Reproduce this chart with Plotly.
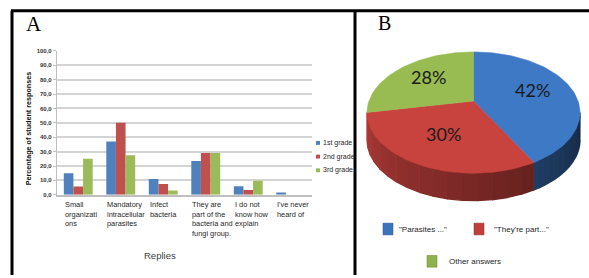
import math
import plotly.graph_objects as go

# ---------------- data ----------------
categories = ["Small organizations", "Mandatory intracellular parasites", "Infect bacteria",
              "They are part of the bacteria and fungi group.", "I do not know how explain",
              "I've never heard of"]
category_labels = ["Small<br>organizati<br>ons", "Mandatory<br>intracellular<br>parasites",
                   "Infect<br>bacteria", "They are<br>part of the<br>bacteria and<br>fungi group.",
                   "I do not<br>know how<br>explain", "I've never<br>heard of"]
series_names = ["1st grade", "2nd grade", "3rd grade"]
grade1 = [15.0, 37.0, 11.0, 23.5, 6.0, 1.5]
grade2 = [5.8, 50.0, 7.5, 29.0, 3.4, 0.0]
grade3 = [25.0, 27.5, 3.0, 29.0, 9.8, 0.0]
y_ticks = [0, 10, 20, 30, 40, 50, 60, 70, 80, 90, 100]

pie_labels = ['"Parasites ..."', '"They\'re part..."', "Other answers"]
pie_values = [42, 30, 28]

# ---------------- styling ----------------
W, H = 589, 278
bar_colors = ["#4F81BD", "#C0504D", "#9BBB59"]
pie_top = [(62, 121, 198), (200, 66, 62), (152, 187, 82)]
NARROW = "Liberation Sans Narrow, Arial Narrow, Liberation Sans, Arial"
SERIF = "Liberation Serif, Times New Roman, DejaVu Serif"


def px(x):
    return x / W


def py(y):
    return 1 - y / H


fig = go.Figure()

# ---------------- panel A: bars ----------------
for name, vals, col in zip(series_names, [grade1, grade2, grade3], bar_colors):
    fig.add_trace(go.Bar(x=categories, y=vals, name=name, marker=dict(color=col, line=dict(width=0)),
                         xaxis="x", yaxis="y", showlegend=False))

group_half = 42.5 * (1 - 0.32) / 2
annotations = []
for cat, lab in zip(categories, category_labels):
    annotations.append(dict(x=cat, y=0, xref="x", yref="y", text=lab, showarrow=False,
                            xanchor="left", yanchor="top", align="left", xshift=-group_half - 1,
                            yshift=-3, font=dict(family=NARROW, size=7.4, color="#262626")))

# axis titles
annotations.append(dict(x=px(28), y=py(129), xref="paper", yref="paper",
                        xanchor="center", yanchor="middle",
                        text="<b>Percentage of student responses</b>", textangle=-90,
                        showarrow=False, font=dict(family=NARROW, size=7.2, color="#111111")))
annotations.append(dict(x=px(160), y=py(258), xref="paper", yref="paper", text="Replies",
                        xanchor="center", yanchor="middle",
                        showarrow=False, font=dict(family=NARROW, size=9.5, color="#404040")))

# legend for bars (drawn)
shapes = []
for i, (name, col) in enumerate(zip(series_names, bar_colors)):
    yc = 143 + 14 * i
    shapes.append(dict(type="rect", xref="paper", yref="paper", x0=px(316), x1=px(320),
                       y0=py(yc + 2), y1=py(yc - 2), fillcolor=col, line=dict(width=0)))
    annotations.append(dict(x=px(320.5), y=py(yc), xref="paper", yref="paper", text=name,
                            showarrow=False, xanchor="left", yanchor="middle",
                            font=dict(family=NARROW, size=7, color="#262626")))

# panel letters
annotations.append(dict(x=px(24), y=py(21), xref="paper", yref="paper", text="A", showarrow=False,
                        xanchor="left", yanchor="middle", font=dict(family=SERIF, size=21, color="#000")))
annotations.append(dict(x=px(376), y=py(20), xref="paper", yref="paper", text="B", showarrow=False,
                        xanchor="left", yanchor="middle", font=dict(family=SERIF, size=20, color="#000")))

# frame lines
for x0, y0, x1, y1 in [(11, 8, 589, 8), (12, 8, 12, 278), (355, 8, 355, 278)]:
    shapes.append(dict(type="line", xref="paper", yref="paper", x0=px(x0), y0=py(y0), x1=px(x1), y1=py(y1),
                       line=dict(color="#000000", width=3)))

# ---------------- panel B: 3D pie drawn in pixel axes ----------------
cx, cy, ra, rb, kp, depth = 473.5, 112.0, 106.5, 62.0, -0.19, 28.0
sp = math.sqrt(1 - kp * kp)


def proj(theta_deg, r=1.0):
    t = math.radians(theta_deg)
    u, v = r * math.sin(t), -r * math.cos(t)
    den = 1 + kp * v
    return cx + ra * u * sp / den, cy + rb * (v + kp) / den


total = sum(pie_values)
bounds = [0.0]
for v in pie_values:
    bounds.append(bounds[-1] + 360.0 * v / total)

front_a = math.degrees(math.acos(kp))
front_b = 360 - front_a


def rgb(c, f):
    return "rgb(%d,%d,%d)" % tuple(max(0, min(255, int(round(ch * f)))) for ch in c)


# sides
for i in range(len(pie_values)):
    a0, a1 = max(bounds[i], front_a), min(bounds[i + 1], front_b)
    if a1 <= a0:
        continue
    n = 16
    for j in range(n):
        ta = a0 + (a1 - a0) * j / n
        tb = a0 + (a1 - a0) * (j + 1) / n
        steps = 4
        xs, ys = [], []
        for m in range(steps + 1):
            x, y = proj(ta + (tb - ta) * m / steps)
            xs.append(x); ys.append(y)
        for m in range(steps, -1, -1):
            x, y = proj(ta + (tb - ta) * m / steps)
            xs.append(x); ys.append(y + depth)
        tm = (ta + tb) / 2
        f = 0.34 + (tm - front_a) / (front_b - front_a) * 0.52
        col = rgb(pie_top[i], f)
        fig.add_trace(go.Scatter(x=xs, y=ys, mode="lines", fill="toself", fillcolor=col,
                                 line=dict(color=col, width=1.3), xaxis="x2", yaxis="y2",
                                 hoverinfo="skip", showlegend=False))

# tops
for i in range(len(pie_values)):
    ax, ay = proj(0, 0.0)
    xs, ys = [ax], [ay]
    n = max(8, int((bounds[i + 1] - bounds[i]) / 2))
    for m in range(n + 1):
        x, y = proj(bounds[i] + (bounds[i + 1] - bounds[i]) * m / n)
        xs.append(x); ys.append(y)
    xs.append(ax); ys.append(ay)
    col = rgb(pie_top[i], 1.0)
    fig.add_trace(go.Scatter(x=xs, y=ys, mode="lines", fill="toself", fillcolor=col,
                             line=dict(color=col, width=0.5), xaxis="x2", yaxis="y2",
                             hoverinfo="skip", showlegend=False, name=pie_labels[i]))
    mid = (bounds[i] + bounds[i + 1]) / 2
    lx, ly = proj(mid, 0.6)
    annotations.append(dict(x=lx, y=ly - 3, xref="x2", yref="y2", xanchor="center", yanchor="middle",
                            text="%d%%" % round(100.0 * pie_values[i] / total), showarrow=False,
                            font=dict(family="Lato, Noto Sans, sans-serif", size=18, color="#1a1a1a")))

# pie legend (drawn)
pie_leg = [(383, 231, 397), (474, 231, 492), (427, 264, 447)]
for (sx, sy, tx), lab, c in zip(pie_leg, pie_labels, pie_top):
    shapes.append(dict(type="rect", xref="paper", yref="paper", x0=px(sx), x1=px(sx + 10),
                       y0=py(sy + 6), y1=py(sy - 6), fillcolor=rgb(c, 0.95),
                       line=dict(color=rgb(c, 0.7), width=0.5)))
    annotations.append(dict(x=px(tx), y=py(sy), xref="paper", yref="paper", text=lab, showarrow=False,
                            xanchor="left", yanchor="middle",
                            font=dict(family=NARROW, size=8, color="#262626")))

fig.update_layout(
    width=W, height=H, margin=dict(l=0, r=0, t=0, b=0),
    paper_bgcolor="white", plot_bgcolor="rgba(0,0,0,0)",
    separators=",.",
    barmode="group", bargap=0.32, bargroupgap=0,
    showlegend=False,
    xaxis=dict(domain=[px(57), px(312)], type="category", range=[-0.5, 5.5],
               showticklabels=False, showgrid=False, zeroline=False,
               showline=True, linecolor="#BFBFBF", linewidth=1.5, ticks=""),
    yaxis=dict(domain=[py(196), py(49)], range=[0, 100], tickvals=y_ticks, tickformat=".1f",
               showgrid=True, gridcolor="#D4D4D4", gridwidth=1.6, zeroline=False,
               showline=True, linecolor="#BFBFBF", linewidth=1.2, ticks="outside", ticklen=3,
               tickcolor="#BFBFBF",
               tickfont=dict(family=NARROW, size=6, color="#333333", weight="bold")),
    xaxis2=dict(domain=[0, 1], range=[0, W], visible=False, fixedrange=True),
    yaxis2=dict(domain=[0, 1], range=[H, 0], visible=False, fixedrange=True),
    annotations=annotations, shapes=shapes,
)

fig.write_html("out.html", config={"displayModeBar": False},
               post_script="document.body.style.margin='0';")
